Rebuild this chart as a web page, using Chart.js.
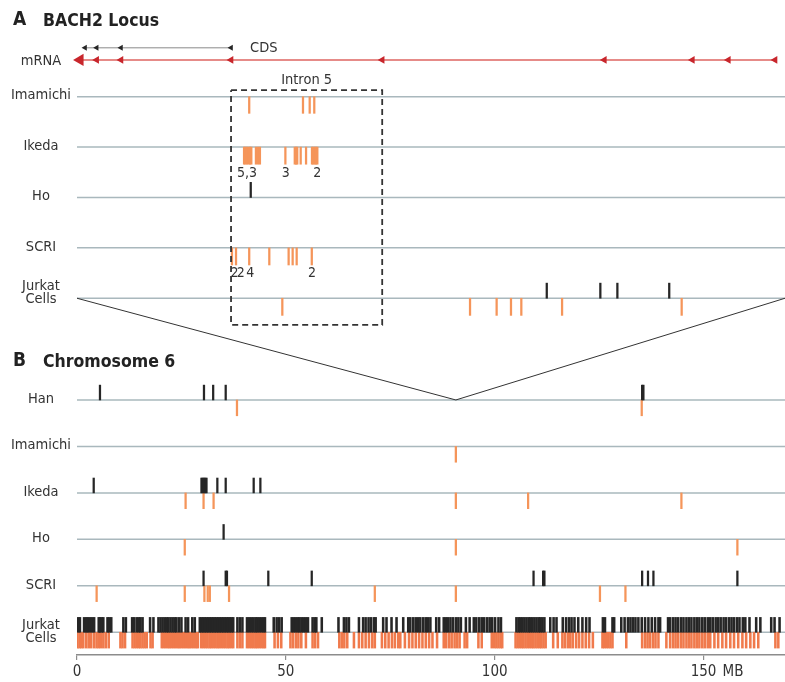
<!DOCTYPE html>
<html>
<head>
<meta charset="utf-8">
<script src="https://cdn.jsdelivr.net/npm/chart.js@4.4.0/dist/chart.umd.min.js"></script>
<style>
  html, body { margin: 0; padding: 0; background: #fff; }
  canvas { display: block; }
</style>
</head>
<body>
<canvas id="bach2Chart" width="785" height="682"></canvas>
<script>
// ---- Panel A: BACH2 locus (positions in kb from the left end of the locus) ----
const KB_MAX = 370;
const mrnaStartKb = 1.6;
const exonsKb = [10.3, 23.0, 80.5, 159.5, 275.6, 321.6, 340.4, 364.8];
const cdsKb = [4.2, 10.3, 23.0, 80.5];

const rowNamesA = ['Imamichi', 'Ikeda', 'Ho', 'SCRI', ['Jurkat', 'Cells']];
const imamichiA_down = [90.0, 118.1, 121.6, 124.0];
const ikedaA_down = [87.3, 88.0, 88.8, 89.7, 90.4, 91.1, 93.5, 94.6, 95.6, 108.9,
  113.8, 114.5, 115.1, 116.9, 119.7, 122.8, 123.5, 124.2, 124.9, 125.6];
const hoA_up = [90.8];
const scriA_down = [81.0, 83.1, 90.0, 100.5, 110.6, 112.7, 114.8, 122.7];
const jurkatA_up = [245.5, 273.5, 282.4, 309.5];
const jurkatA_down = [107.3, 205.4, 219.3, 226.8, 232.2, 253.5, 316.0];
const ikedaA_counts = ['5,3', '3', '2'];
const ikedaA_countKb = [88.8, 109.1, 125.6];
const scriA_counts = ['2', '2', '4', '2'];
const scriA_countKb = [82.3, 85.6, 90.6, 122.8];

// ---- Panel B: chromosome 6 (positions in MB) ----
const MB_MAX = 169.5;
const BACH2_MB = 90.7;
const xTicks = [0, 50, 100, 150];

const rowNamesB = ['Han', 'Imamichi', 'Ikeda', 'Ho', 'SCRI', ['Jurkat', 'Cells']];
const hanB_up = [5.5, 30.4, 32.6, 35.6, 135.3, 135.6];
const hanB_down = [38.3, 135.2];
const imamichiB_down = [90.7];
const ikedaB_up = [4.0, 29.8, 30.1, 30.4, 30.7, 31.0, 33.6, 35.6, 42.3, 43.9];
const ikedaB_down = [26.0, 30.3, 32.7, 90.7, 108.0, 144.7];
const hoB_up = [35.1];
const hoB_down = [25.8, 90.7, 158.1];
const scriB_up = [30.3, 35.6, 35.9, 45.8, 56.2, 109.3, 111.6, 111.9, 135.3, 136.7, 138.0, 158.1];
const scriB_down = [4.7, 25.8, 30.5, 31.3, 31.8, 36.4, 71.3, 90.7, 125.2, 131.3];
const jurkatB_up = [0.3, 0.7, 1.7, 2.2, 2.6, 3.1, 3.6, 4.1, 5.2, 5.5, 5.9, 6.3, 7.3, 7.7, 8.2,
  11.1, 11.7, 13.2, 13.7, 14.3, 14.8, 15.2, 15.7, 17.5, 18.3, 19.5, 20.0, 20.5, 21.0, 21.5,
  21.9, 22.4, 22.9, 23.4, 23.8, 24.4, 25.0, 26.0, 26.6, 27.6, 28.2, 29.4, 29.8, 30.2, 30.6,
  31.0, 31.4, 31.8, 32.2, 32.6, 33.0, 33.4, 33.8, 34.2, 34.6, 35.0, 35.4, 35.8, 36.2, 36.6,
  37.0, 37.4, 38.4, 39.0, 39.6, 40.7, 41.2, 41.7, 42.2, 42.7, 43.1, 43.6, 44.1, 44.6, 45.0,
  47.1, 47.8, 48.4, 49.0, 51.4, 51.9, 52.4, 52.9, 53.3, 53.8, 54.3, 54.8, 55.3, 56.4, 56.9,
  57.3, 58.6, 62.6, 63.9, 64.5, 65.1, 67.5, 68.5, 69.1, 69.8, 70.4, 71.1, 71.5, 73.3, 74.1,
  75.3, 76.5, 78.1, 79.3, 79.8, 80.5, 81.1, 81.7, 82.2, 82.9, 83.5, 84.0, 84.6, 86.0, 86.7,
  87.8, 88.3, 88.8, 89.4, 90.0, 90.7, 91.3, 91.9, 93.1, 94.0, 95.0, 95.6, 96.3, 96.9, 97.5,
  98.2, 98.8, 99.4, 100.1, 100.9, 101.5, 105.2, 105.7, 106.1, 106.6, 107.1, 107.6, 108.1,
  108.5, 109.0, 109.5, 110.0, 110.5, 110.9, 111.4, 111.9, 113.3, 114.1, 114.8, 116.3, 117.1,
  117.8, 118.4, 119.1, 120.0, 121.0, 121.9, 122.7, 125.9, 126.4, 128.2, 128.6, 130.3, 131.1,
  131.9, 132.5, 133.1, 133.7, 134.4, 135.2, 136.0, 136.8, 137.6, 138.4, 139.2, 139.6, 141.5,
  142.0, 142.7, 143.3, 143.9, 144.6, 145.2, 145.9, 146.5, 147.1, 147.8, 148.4, 149.0, 149.7,
  150.3, 151.0, 151.6, 152.2, 152.9, 153.5, 154.1, 154.8, 155.4, 156.1, 156.7, 157.3, 158.0,
  158.6, 159.4, 160.0, 161.0, 162.6, 163.6, 166.2, 167.0, 168.2];
const jurkatB_down = [0.1, 0.6, 1.0, 1.5, 2.2, 2.8, 3.4, 4.1, 4.7, 5.2, 5.7, 6.3, 6.9, 7.6,
  10.4, 10.9, 11.5, 13.3, 13.8, 14.3, 14.8, 15.2, 15.7, 16.2, 16.7, 17.6, 18.1, 20.3, 20.8,
  21.3, 21.8, 22.2, 22.7, 23.2, 23.7, 24.2, 24.6, 25.1, 25.6, 26.1, 26.6, 27.0, 27.5, 28.0,
  28.5, 28.9, 29.7, 30.2, 30.7, 31.2, 31.7, 32.1, 32.6, 33.1, 33.6, 34.0, 34.5, 35.0, 35.5,
  36.0, 36.4, 36.9, 37.4, 38.4, 39.0, 39.6, 40.7, 41.2, 41.7, 42.2, 42.7, 43.1, 43.6, 44.1,
  44.6, 45.0, 47.3, 48.1, 48.9, 51.1, 51.7, 52.4, 53.0, 53.7, 54.8, 56.4, 57.0, 57.7, 62.8,
  63.4, 64.0, 64.7, 66.3, 67.5, 68.3, 69.1, 69.9, 70.7, 71.3, 73.0, 73.8, 74.6, 75.4, 76.1,
  76.9, 77.4, 78.5, 79.5, 80.3, 81.1, 81.9, 82.7, 83.5, 84.3, 85.1, 86.2, 87.8, 88.4, 89.1,
  89.7, 90.4, 91.0, 91.6, 92.8, 93.4, 96.1, 96.9, 99.3, 99.9, 100.4, 100.9, 101.4, 101.8,
  105.0, 105.5, 106.0, 106.5, 106.9, 107.4, 107.9, 108.4, 108.9, 109.3, 109.8, 110.3, 110.8,
  111.2, 111.7, 112.2, 114.0, 115.1, 116.2, 116.8, 117.5, 118.1, 118.7, 119.5, 120.2, 121.0,
  121.8, 122.6, 123.5, 125.8, 126.2, 126.7, 127.2, 127.7, 128.2, 131.5, 135.3, 136.0, 136.6,
  137.2, 137.9, 138.5, 139.2, 141.1, 142.0, 142.7, 143.3, 143.9, 144.6, 145.2, 145.9, 146.5,
  147.1, 147.8, 148.4, 149.0, 149.7, 150.3, 151.0, 151.6, 152.6, 153.5, 154.5, 155.4, 156.4,
  157.3, 158.3, 159.3, 160.2, 161.2, 162.1, 163.1, 167.2, 167.9];

// ---- layout (row units on each panel's y scale) ----
const CDS_Y = 0.03, MRNA_Y = 0.27;
const BOX_TOP = 0.87, BOX_BOTTOM = 5.53;
const BLACK = '#262626', ORANGE = '#f5955a', ORANGE_DENSE = '#f07a4c';
const LINE = '#a9b8bd', TEXT = '#333';
const FONT = '"DejaVu Sans Condensed", "Liberation Sans Narrow", sans-serif';

function ticks(values, row, up, len, color, xID, yID, thick) {
    return {
        type: 'bar',
        data: values.map(v => ({ x: v, y: up ? [row - len, row] : [row, row + len] })),
        backgroundColor: color,
        borderWidth: 0,
        barThickness: thick || 1.6,
        grouped: false,
        xAxisID: xID,
        yAxisID: yID,
        order: 1
    };
}

function hline(x0, x1, row, color, width, xID, yID) {
    return {
        type: 'line',
        data: [{ x: x0, y: row }, { x: x1, y: row }],
        borderColor: color,
        borderWidth: width,
        pointRadius: 0,
        xAxisID: xID,
        yAxisID: yID,
        order: 3
    };
}

function arrows(values, row, radius, color, xID, yID) {
    return {
        type: 'line',
        showLine: false,
        data: values.map(v => ({ x: v, y: row })),
        pointStyle: 'triangle',
        pointRotation: -90,
        pointRadius: radius,
        pointBackgroundColor: color,
        pointBorderWidth: 0,
        clip: false,
        xAxisID: xID,
        yAxisID: yID,
        order: 0
    };
}

const datasets = [];

// panel A rows
rowNamesA.forEach((n, i) => datasets.push(hline(0, KB_MAX, i + 1, LINE, 1.5, 'xA', 'yA')));
datasets.push(hline(0, exonsKb[exonsKb.length - 1], MRNA_Y, '#de6461', 1.5, 'xA', 'yA'));
datasets.push(hline(cdsKb[0], cdsKb[cdsKb.length - 1], CDS_Y, '#8a8a8a', 1, 'xA', 'yA'));
datasets.push(arrows(exonsKb, MRNA_Y, 4.5, '#c8262c', 'xA', 'yA'));
datasets.push(arrows([mrnaStartKb], MRNA_Y, 7, '#c8262c', 'xA', 'yA'));
datasets.push(arrows(cdsKb, CDS_Y, 3.5, BLACK, 'xA', 'yA'));

datasets.push(ticks(imamichiA_down, 1, false, 0.33, ORANGE, 'xA', 'yA'));
datasets.push(ticks(ikedaA_down, 2, false, 0.34, ORANGE, 'xA', 'yA'));
datasets.push(ticks(hoA_up, 3, true, 0.3, BLACK, 'xA', 'yA'));
datasets.push(ticks(scriA_down, 4, false, 0.34, ORANGE, 'xA', 'yA'));
datasets.push(ticks(jurkatA_up, 5, true, 0.3, BLACK, 'xA', 'yA'));
datasets.push(ticks(jurkatA_down, 5, false, 0.34, ORANGE, 'xA', 'yA'));

// intron 5 box
datasets.push({
    type: 'line',
    data: [
        { x: exonsKb[2], y: BOX_TOP }, { x: exonsKb[3], y: BOX_TOP },
        { x: exonsKb[3], y: BOX_BOTTOM }, { x: exonsKb[2], y: BOX_BOTTOM },
        { x: exonsKb[2], y: BOX_TOP }
    ],
    borderColor: '#333',
    borderWidth: 1.8,
    borderDash: [6, 4],
    pointRadius: 0,
    xAxisID: 'xA',
    yAxisID: 'yA',
    order: 0
});

// panel B rows
rowNamesB.forEach((n, i) => datasets.push(hline(0, MB_MAX, i + 1, LINE, 1.5, 'x', 'yB')));
datasets.push(ticks(hanB_up, 1, true, 0.32, BLACK, 'x', 'yB'));
datasets.push(ticks(hanB_down, 1, false, 0.34, ORANGE, 'x', 'yB'));
datasets.push(ticks(imamichiB_down, 2, false, 0.34, ORANGE, 'x', 'yB'));
datasets.push(ticks(ikedaB_up, 3, true, 0.32, BLACK, 'x', 'yB'));
datasets.push(ticks(ikedaB_down, 3, false, 0.34, ORANGE, 'x', 'yB'));
datasets.push(ticks(hoB_up, 4, true, 0.32, BLACK, 'x', 'yB'));
datasets.push(ticks(hoB_down, 4, false, 0.34, ORANGE, 'x', 'yB'));
datasets.push(ticks(scriB_up, 5, true, 0.32, BLACK, 'x', 'yB'));
datasets.push(ticks(scriB_down, 5, false, 0.34, ORANGE, 'x', 'yB'));
datasets.push(ticks(jurkatB_up, 6, true, 0.32, BLACK, 'x', 'yB', 1.9));
datasets.push(ticks(jurkatB_down, 6, false, 0.34, ORANGE_DENSE, 'x', 'yB', 1.9));

function text(ctx, str, x, y, font, color, align) {
    ctx.save();
    ctx.font = font;
    ctx.fillStyle = color;
    ctx.textAlign = align || 'center';
    ctx.textBaseline = 'middle';
    ctx.fillText(str, x, y);
    ctx.restore();
}

const annotations = {
    id: 'annotations',
    afterDatasetsDraw(chart) {
        const { ctx, scales } = chart;
        const x = scales.x, yA = scales.yA, yB = scales.yB;
        // zoom lines from the locus down to its place on chromosome 6
        ctx.save();
        ctx.strokeStyle = '#333';
        ctx.lineWidth = 1;
        ctx.beginPath();
        ctx.moveTo(x.getPixelForValue(0), yA.getPixelForValue(5));
        ctx.lineTo(x.getPixelForValue(BACH2_MB), yB.getPixelForValue(1));
        ctx.lineTo(x.getPixelForValue(MB_MAX), yA.getPixelForValue(5));
        ctx.stroke();
        ctx.restore();
    },
    afterDraw(chart) {
        const { ctx, chartArea, scales } = chart;
        const x = scales.x, xA = scales.xA, yA = scales.yA, yB = scales.yB;
        const labelX = 41;
        const f = '14.5px ' + FONT;

        text(ctx, 'A', 13, 20, 'bold 19px ' + FONT, '#222', 'left');
        text(ctx, 'BACH2 Locus', 43, 21, 'bold 17.5px ' + FONT, '#222', 'left');
        text(ctx, 'B', 13, 361, 'bold 19px ' + FONT, '#222', 'left');
        text(ctx, 'Chromosome 6', 43, 362, 'bold 17.5px ' + FONT, '#222', 'left');

        text(ctx, 'mRNA', labelX, yA.getPixelForValue(MRNA_Y) + 1, f, TEXT);
        text(ctx, 'CDS', xA.getPixelForValue(cdsKb[cdsKb.length - 1]) + 19,
            yA.getPixelForValue(CDS_Y), f, TEXT, 'left');
        text(ctx, 'Intron 5', (xA.getPixelForValue(exonsKb[2]) + xA.getPixelForValue(exonsKb[3])) / 2,
            yA.getPixelForValue(BOX_TOP) - 10, f, TEXT);

        const rowLabels = (names, scale, shift) => names.forEach((n, i) => {
            const py = scale.getPixelForValue(i + 1);
            if (Array.isArray(n)) {
                text(ctx, n[0], labelX, py + shift - 7, f, TEXT);
                text(ctx, n[1], labelX, py + shift + 6, f, TEXT);
            } else {
                text(ctx, n, labelX, py - 1, f, TEXT);
            }
        });
        rowLabels(rowNamesA, yA, -5);
        rowLabels(rowNamesB, yB, 0);

        const nf = '14px ' + FONT;
        ikedaA_counts.forEach((c, i) => text(ctx, c, xA.getPixelForValue(ikedaA_countKb[i]),
            yA.getPixelForValue(2) + 26, nf, TEXT));
        scriA_counts.forEach((c, i) => text(ctx, c, xA.getPixelForValue(scriA_countKb[i]),
            yA.getPixelForValue(4) + 25, nf, TEXT));

        text(ctx, 'MB', x.getPixelForValue(150) + 19, chartArea.bottom + 17, '15px ' + FONT, TEXT, 'left');
    }
};

Chart.defaults.font.family = FONT;

const ctx = document.getElementById('bach2Chart').getContext('2d');
const bach2Chart = new Chart(ctx, {
    type: 'bar',
    data: { datasets: datasets },
    plugins: [annotations],
    options: {
        responsive: false,
        animation: false,
        events: [],
        layout: { autoPadding: false, padding: { left: 77, top: 0, right: 0, bottom: 0 } },
        plugins: { legend: { display: false }, tooltip: { enabled: false } },
        scales: {
            x: {
                type: 'linear',
                axis: 'x',
                position: 'bottom',
                min: 0,
                max: MB_MAX,
                offset: false,
                afterBuildTicks: (axis) => { axis.ticks = xTicks.map(v => ({ value: v })); },
                afterFit: (axis) => { axis.height = 27; },
                grid: { drawOnChartArea: false, offset: false, tickLength: 5, color: '#8c8c8c', lineWidth: 1.2 },
                border: { color: '#8c8c8c', width: 1.5 },
                ticks: { color: TEXT, font: { size: 15 }, padding: 3, maxRotation: 0 }
            },
            xA: {
                type: 'linear',
                axis: 'x',
                position: 'top',
                display: false,
                min: 0,
                max: KB_MAX,
                offset: false,
                grid: { offset: false }
            },
            yA: {
                type: 'linear',
                axis: 'y',
                position: 'left',
                display: false,
                reverse: true,
                min: -0.919,
                max: 12.08
            },
            yB: {
                type: 'linear',
                axis: 'y',
                position: 'left',
                display: false,
                reverse: true,
                min: -7.609,
                max: 6.489
            }
        }
    }
});
</script>
</body>
</html>
